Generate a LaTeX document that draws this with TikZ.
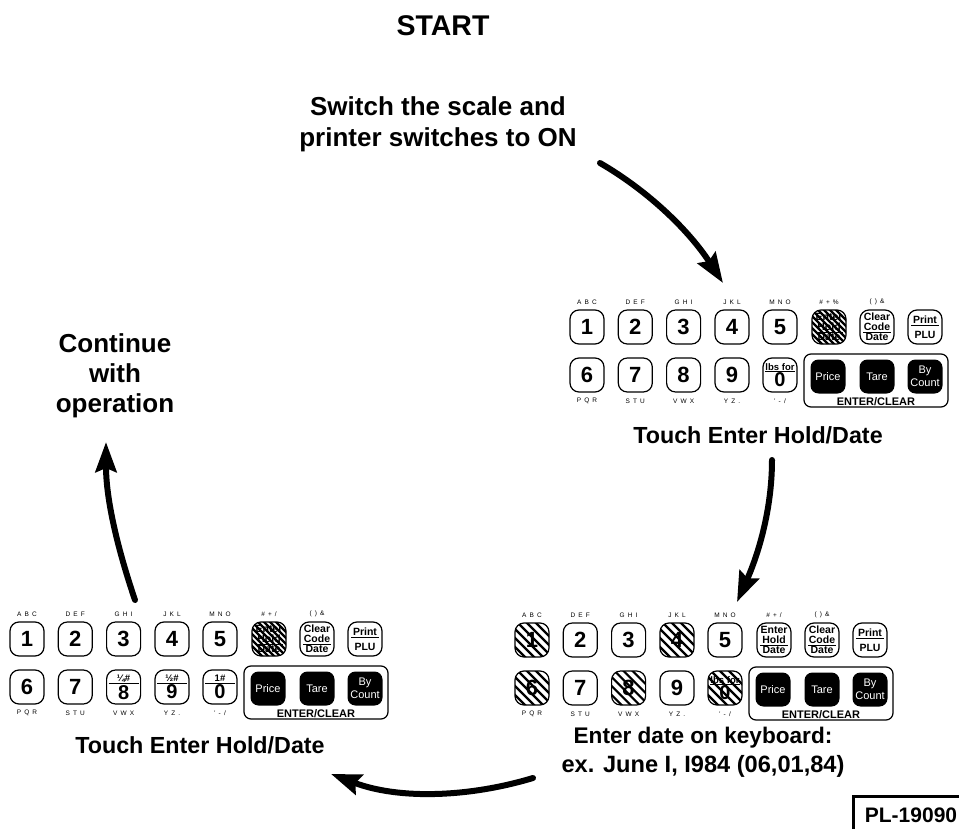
\documentclass[tikz,border=0pt]{standalone}
\usepackage{fontspec}
\setmainfont{Liberation Sans}
\usetikzlibrary{arrows.meta}
\tikzset{
  x=1pt,y=-1pt,
  keycap/.style={draw,line width=1.2pt,rounded corners=9pt,minimum width=34pt,minimum height=34pt,inner sep=0pt,align=center,font=\fontsize{22}{22}\bfseries},
  hatchkey/.style={path picture={\foreach \i in {-60,-51,...,60}{\draw[line width=2.2pt] ([xshift=\i pt-26pt,yshift=26pt]path picture bounding box.center) -- ([xshift=\i pt+26pt,yshift=-26pt]path picture bounding box.center);}}},
  densekey/.style={path picture={\foreach \i in {-60,-54,...,60}{\draw[line width=2.2pt] ([xshift=\i pt-26pt,yshift=26pt]path picture bounding box.center) -- ([xshift=\i pt+26pt,yshift=-26pt]path picture bounding box.center);}}},
  blackkey/.style={fill=black,rounded corners=8pt,minimum width=35pt,minimum height=34pt,inner sep=0pt,align=center,text=white,font=\fontsize{11}{13}\selectfont},
  panelbox/.style={draw,line width=1.2pt,rounded corners=7pt,minimum width=144pt,minimum height=53pt,inner sep=0pt},
  tiny/.style={font=\fontsize{6.5}{7}\selectfont,inner sep=0pt},
  paneltitle/.style={font=\fontsize{11}{11}\bfseries,inner sep=0pt},
  caption/.style={font=\fontsize{23.3}{28}\bfseries,align=center,inner sep=0pt},
  flow/.style={line width=6pt,line cap=round,-{Stealth[length=30pt,width=21pt,inset=4pt]}},
}
\newcommand{\lbl}[1]{\addfontfeature{LetterSpace=20}#1}
\newcommand{\stk}[3]{\parbox{30pt}{\centering\fontsize{10.5}{10}\bfseries #1\\\underline{\makebox[28pt]{#2}}\\#3}}
\newcommand{\stkb}[2]{\parbox{30pt}{\centering\fontsize{10.5}{15}\bfseries\underline{\makebox[28pt]{#1}}\\#2}}
\newcommand{\frc}[2]{\parbox{32pt}{\centering\fontsize{9.5}{16.5}\bfseries\underline{\makebox[30pt]{#1}}\\{\fontsize{20}{16.5}\bfseries #2}}}
\newcommand{\toplabels}[2]{%
  \node[tiny] (#1la) at (0,-25) {\lbl{A B C}};
  \node[tiny] (#1lb) at (48.3,-25) {\lbl{D E F}};
  \node[tiny] (#1lc) at (96.6,-25) {\lbl{G H I}};
  \node[tiny] (#1ld) at (145,-25) {\lbl{J K L}};
  \node[tiny] (#1le) at (193,-25) {\lbl{M N O}};
  \node[tiny] (#1lf) at (242,-25) {\lbl{#2}};
  \node[tiny] (#1lg) at (290,-25) {\lbl{( ) \&}};
  \node[tiny] (#1lp) at (0,74) {\lbl{P Q R}};
  \node[tiny] (#1lq) at (48.3,74) {\lbl{S T U}};
  \node[tiny] (#1lr) at (96.6,74) {\lbl{V W X}};
  \node[tiny] (#1ls) at (145,74) {\lbl{Y Z .}};
  \node[tiny] (#1lt) at (193,74) {\lbl{' - /}};
  \node[keycap] (#1k2c) at (290,0) {\stk{Clear}{Code}{Date}};
  \node[keycap] (#1k2p) at (338,0) {\stkb{Print}{PLU}};
  \node[panelbox] (#1panel) at (289,53.5) {};
  \node[blackkey] (#1price) at (241,49.5) {Price};
  \node[blackkey] (#1tare) at (290,49.5) {Tare};
  \node[blackkey] (#1count) at (338,49.5) {By\\Count};
  \node[paneltitle] (#1etitle) at (289,75) {ENTER/CLEAR};
}
\begin{document}
\begin{tikzpicture}
\useasboundingbox[fill=white] (0,0) rectangle (959,829);

\node[font=\fontsize{28.5}{28.5}\bfseries,inner sep=0pt] (start) at (443,26) {START};
\node[caption,font=\fontsize{26}{31}\bfseries] (sw) at (438,124) {Switch the scale and\\printer switches to ON};
\node[caption,font=\fontsize{26}{30}\bfseries] (cont) at (115,376) {Continue\\with\\operation};

% keypad top right
\begin{scope}[shift={(587,327)}]
\toplabels{a}{\# + \%}
\node[keycap] (a1) at (0,0) {1};
\node[keycap] (a2) at (48.3,0) {2};
\node[keycap] (a3) at (96.6,0) {3};
\node[keycap] (a4) at (145,0) {4};
\node[keycap] (a5) at (193,0) {5};
\node[keycap,densekey] (ae) at (242,0) {\stk{Enter}{Hold}{Date}};
\node[keycap] (a6) at (0,48) {6};
\node[keycap] (a7) at (48.3,48) {7};
\node[keycap] (a8) at (96.6,48) {8};
\node[keycap] (a9) at (145,48) {9};
\node[keycap] (a0) at (193,48) {\frc{lbs for}{0}};
\end{scope}
\node[caption] (t1) at (758,435) {Touch Enter Hold/Date};

% keypad bottom left
\begin{scope}[shift={(27,639)}]
\toplabels{b}{\# + /}
\node[keycap] (b1) at (0,0) {1};
\node[keycap] (b2) at (48.3,0) {2};
\node[keycap] (b3) at (96.6,0) {3};
\node[keycap] (b4) at (145,0) {4};
\node[keycap] (b5) at (193,0) {5};
\node[keycap,densekey] (be) at (242,0) {\stk{Enter}{Hold}{Date}};
\node[keycap] (b6) at (0,48) {6};
\node[keycap] (b7) at (48.3,48) {7};
\node[keycap] (b8) at (96.6,48) {\frc{¼\#}{8}};
\node[keycap] (b9) at (145,48) {\frc{½\#}{9}};
\node[keycap] (b0) at (193,48) {\frc{1\#}{0}};
\end{scope}
\node[caption] (t2) at (200,745) {Touch Enter Hold/Date};

% keypad bottom right
\begin{scope}[shift={(532,640)}]
\toplabels{c}{\# + /}
\node[keycap,hatchkey] (c1) at (0,0) {1};
\node[keycap] (c2) at (48.3,0) {2};
\node[keycap] (c3) at (96.6,0) {3};
\node[keycap,hatchkey] (c4) at (145,0) {4};
\node[keycap] (c5) at (193,0) {5};
\node[keycap] (ce) at (242,0) {\stk{Enter}{Hold}{Date}};
\node[keycap,hatchkey] (c6) at (0,48) {6};
\node[keycap] (c7) at (48.3,48) {7};
\node[keycap,hatchkey] (c8) at (96.6,48) {8};
\node[keycap] (c9) at (145,48) {9};
\node[keycap,hatchkey] (c0) at (193,48) {\frc{lbs for}{0}};
\end{scope}
\node[caption,font=\fontsize{22.6}{28}\bfseries] (t3a) at (703,738) {Enter date on keyboard:};
\node[caption,font=\fontsize{23.6}{28}\bfseries] (t3b) at (703,766) {ex. June I, I984 (06,01,84)};

% connectors
\coordinate (s1) at (600,163);
\coordinate (e1) at (723,283);
\coordinate (s2) at (772,460);
\coordinate (e2) at (737,602);
\coordinate (s3) at (533,778);
\coordinate (e3) at (331,774);
\coordinate (s4) at (135,600);
\coordinate (e4) at (106,442);
\draw[flow] (s1) .. controls (650,192) and (690,232) .. (e1);
\draw[flow] (s2) .. controls (772,510) and (758,555) .. (e2);
\draw[flow] (s3) .. controls (470,797) and (400,800) .. (e3);
\draw[flow] (s4) .. controls (118,550) and (106,500) .. (e4);

% label corner
\coordinate (pa) at (853,829);
\coordinate (pb) at (853,796);
\coordinate (pc) at (959,796);
\draw[line width=3pt] (pa) -- (pb) -- (pc);
\node[font=\fontsize{21}{21}\bfseries,inner sep=0pt] (pl) at (911,815) {PL-19090};
\end{tikzpicture}
\end{document}
